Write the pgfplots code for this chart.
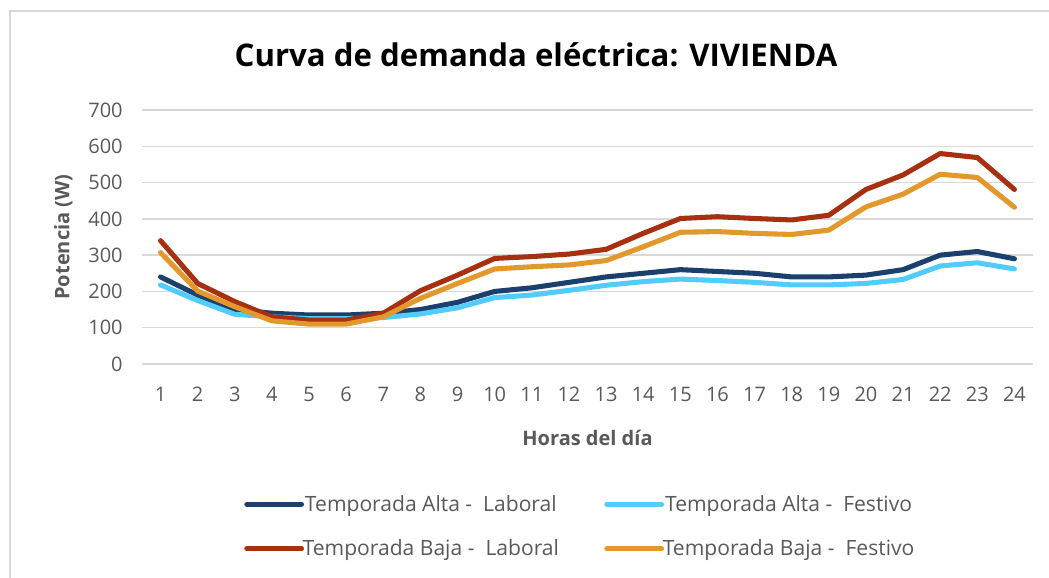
\documentclass[border=0pt]{standalone}
\usepackage{pgfplots}
\pgfplotsset{compat=1.18}
\usepackage{pgfplotstable}
\usepackage{fontspec}
\setmainfont{Open Sans}
\definecolor{cAL}{HTML}{1B406E}
\definecolor{cAF}{HTML}{52CCFF}
\definecolor{cBL}{HTML}{A63010}
\definecolor{cBF}{HTML}{E2982A}
\definecolor{txt}{HTML}{595959}
\definecolor{gridc}{HTML}{D9D9D9}
\pgfplotstableread{
h AL AF BL BF
1 240 218 340 307
2 190 175 222 201
3 150 137 172 158
4 140 130 130 119
5 135 125 121 110
6 135 125 121 110
7 140 128 140 130
8 150 138 202 181
9 170 155 245 222
10 200 183 291 262
11 210 190 296 268
12 225 203 303 273
13 240 217 316 285
14 250 227 360 323
15 260 234 401 363
16 255 230 406 365
17 250 225 401 360
18 240 218 397 357
19 240 218 410 369
20 245 222 481 433
21 260 233 521 468
22 300 270 580 523
23 310 279 569 514
24 290 262 481 432
}\datatable
\begin{document}
\begin{tikzpicture}
\useasboundingbox (0,0) rectangle (786.75pt,-433.5pt);
\draw[gridc, line width=1.2pt] (7.5pt,-433.5pt) -- (7.5pt,-8.25pt) -- (786.75pt,-8.25pt);
\node[font=\fontsize{23.4}{28}\selectfont\bfseries, text=black] at (402pt,-41.25pt) {Curva de demanda eléctrica: VIVIENDA};
\begin{axis}[
  at={(106.5pt,-273pt)}, anchor=south west,
  scale only axis, width=668.25pt, height=190.5pt,
  xmin=0.5, xmax=24.5, ymin=0, ymax=700,
  xtick={1,...,24}, ytick={0,100,...,700},
  axis line style={draw=none},
  major tick length=0pt,
  xmajorgrids=false, ymajorgrids=true,
  grid style={draw=gridc, line width=1.1pt},
  tick label style={font=\fontsize{15}{18}\selectfont, text=txt},
  /pgf/number format/assume math mode=true,
  xticklabel shift=14pt, yticklabel shift=11pt,
  xlabel={Horas del día}, ylabel={Potencia (W)},
  label style={font=\fontsize{15}{18}\selectfont\bfseries, text=txt},
  xlabel style={yshift=-14pt},
  ylabel style={yshift=5pt},
  every axis plot/.append style={line width=3.8pt, line join=round, line cap=round},
  legend columns=2,
  legend image code/.code={\draw[#1, line cap=round] (0pt,0pt) -- (41pt,0pt);},
  legend style={draw=none, fill=none, at={(0.1145,-0.515)}, anchor=north west,
    font=\fontsize{15.8}{19}\selectfont, text=txt, inner sep=0pt, row sep=20pt,
    nodes={inner sep=0pt},
    /tikz/every odd column/.append style={column sep=-1pt},
    /tikz/every even column/.append style={column sep=34pt}},
]
\addplot[cAL] table[x=h,y=AL] {\datatable};
\addlegendentry{Temporada Alta -\ \ Laboral}
\addplot[cAF] table[x=h,y=AF] {\datatable};
\addlegendentry{Temporada Alta -\ \ Festivo}
\addplot[cBL] table[x=h,y=BL] {\datatable};
\addlegendentry{Temporada Baja -\ \ Laboral}
\addplot[cBF] table[x=h,y=BF] {\datatable};
\addlegendentry{Temporada Baja -\ \ Festivo}
\end{axis}
\end{tikzpicture}
\end{document}
